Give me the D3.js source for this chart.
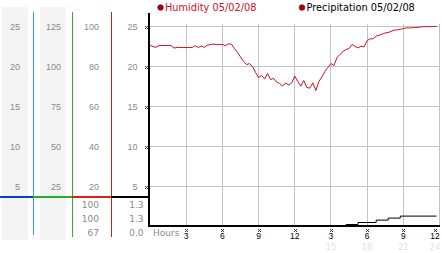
<!DOCTYPE html>
<html>
<head>
<meta charset="utf-8">
<script src="https://cdn.jsdelivr.net/npm/d3@7"></script>
<style>
  body { margin: 0; background: #fff; }
  svg { display: block; font-family: "DejaVu Sans", Verdana, sans-serif; }
</style>
</head>
<body>
<svg id="chart" width="442" height="253"></svg>
<script>
// humidity (%) sampled every 15 minutes from 00:00
const humidityStepHours = 0.25;
const humidity = [
  90.5, 90.0, 89.6, 90.5, 90.5, 90.5, 90.5, 90.5, 89.2, 89.6, 89.5, 89.5,
  89.5, 89.5, 89.5, 90.4, 89.5, 90.2, 89.6, 90.6, 91.0, 91.2, 91.0, 91.0,
  91.0, 90.4, 91.3, 91.2, 89.0, 87.0, 84.8, 82.6, 81.0, 81.4, 80.0, 77.0,
  74.5, 75.5, 73.8, 76.5, 73.5, 74.0, 72.2, 71.5, 70.2, 71.8, 70.7, 71.8,
  75.2, 72.5, 70.2, 73.0, 69.5, 69.2, 71.8, 68.0, 72.5, 74.8, 77.5, 79.5,
  81.5, 80.5, 84.5, 86.0, 87.5, 88.5, 89.0, 91.0, 90.0, 89.3, 90.2, 89.8,
  93.0, 93.8, 93.9, 95.2, 95.6, 96.2, 96.8, 97.0, 97.6, 98.2, 98.3, 98.6,
  99.0, 99.3, 99.3, 99.4, 99.5, 99.6, 99.8, 100.0, 99.9, 100.0, 100.0, 100.0
];

// cumulative precipitation, changes only
const precipHours = [0, 16.25, 17.25, 18.75, 19.75, 20.75, 23.75];
const precipValues = [0, 0.25, 0.5, 0.8, 1.05, 1.3, 1.3];

// left hand scale columns
const col1Ticks = [5, 10, 15, 20, 25];
const col2Ticks = [25, 50, 75, 100, 125];
const col3Ticks = [20, 40, 60, 80, 100];
const col4Ticks = [5, 10, 15, 20, 25];

// readings printed under the colour bar
const col3Readings = ["100", "100", "67"];
const col4Readings = ["1.3", "1.3", "0.0"];

// x axis
const hourTicks = [3, 6, 9, 12, 15, 18, 21, 24];
const hourLabels = ["3", "6", "9", "12", "3", "6", "9", "12"];
const dayTicks = [15, 18, 21, 24];

const legendItems = [
  { label: "Humidity 05/02/08", x: 160.5, color: "#cc1020" },
  { label: "Precipitation 05/02/08", x: 302, color: "#000" },
];

const svg = d3.select("#chart");

const xScale = d3.scaleLinear().domain([0, 24]).range([150, 439.5]);
const yScale = d3.scaleLinear().domain([0, 25]).range([226.5, 26.5]);
const humScale = d3.scaleLinear().domain([0, 100]).range([226.5, 26.5]);
const col2Scale = d3.scaleLinear().domain([0, 125]).range([226.5, 26.5]);

const crisp = (v) => Math.round(v - 0.5) + 0.5;
// last label on the right is pulled inside the frame
const labelX = (d) => Math.min(xScale(d), 435);

// grey bands behind the first two columns
svg.selectAll(".band")
  .data([[2, 26], [40, 26]])
  .enter()
  .append("rect")
  .attr("x", (d) => d[0])
  .attr("y", 7)
  .attr("width", (d) => d[1])
  .attr("height", 233)
  .attr("fill", "#f4f4f4");

// vertical coloured separators
const separators = [
  { x: 33.5, color: "#28a4d4", y2: 235 },
  { x: 72.5, color: "#2cb42c", y2: 237 },
  { x: 111.5, color: "#c82020", y2: 237 },
];
svg.selectAll(".sep")
  .data(separators)
  .enter()
  .append("line")
  .attr("x1", (d) => d.x)
  .attr("x2", (d) => d.x)
  .attr("y1", 12)
  .attr("y2", (d) => d.y2)
  .attr("stroke", (d) => d.color)
  .attr("stroke-width", 1);

// horizontal colour bar
const barSegments = [
  { x1: 0, x2: 33, color: "#0a3cd0" },
  { x1: 33, x2: 72, color: "#22b022" },
  { x1: 72, x2: 111, color: "#d82020" },
  { x1: 111, x2: 149, color: "#000" },
];
svg.selectAll(".seg")
  .data(barSegments)
  .enter()
  .append("rect")
  .attr("x", (d) => d.x1)
  .attr("y", 196)
  .attr("width", (d) => d.x2 - d.x1)
  .attr("height", 2)
  .attr("fill", (d) => d.color);

// label columns, drawn with d3 axes
const drawColumn = (scale, ticks, right) => {
  const g = svg.append("g")
    .attr("transform", `translate(${right},0)`)
    .call(d3.axisLeft(scale).tickValues(ticks).tickSize(0).tickPadding(0));
  g.select(".domain").remove();
  g.selectAll("text")
    .attr("fill", "#8a8a8a")
    .style("font-size", "9px");
};
drawColumn(yScale, col1Ticks, 20);
drawColumn(col2Scale, col2Ticks, 61);
drawColumn(humScale, col3Ticks, 99);
drawColumn(yScale, col4Ticks, 137.5);

const readingY = [207.5, 221.5, 235.5];
svg.selectAll(".read3")
  .data(col3Readings)
  .enter()
  .append("text")
  .attr("x", 99)
  .attr("y", (d, i) => readingY[i])
  .attr("text-anchor", "end")
  .attr("fill", "#8a8a8a")
  .style("font-size", "9px")
  .text((d) => d);
svg.selectAll(".read4")
  .data(col4Readings)
  .enter()
  .append("text")
  .attr("x", 143.5)
  .attr("y", (d, i) => readingY[i])
  .attr("text-anchor", "end")
  .attr("fill", "#8a8a8a")
  .style("font-size", "9px")
  .text((d) => d);

// grid
svg.selectAll(".hgrid")
  .data(col4Ticks)
  .enter()
  .append("line")
  .attr("x1", 149)
  .attr("x2", 440)
  .attr("y1", (d) => crisp(yScale(d)))
  .attr("y2", (d) => crisp(yScale(d)))
  .attr("stroke", "#c4c4c4");
svg.selectAll(".vgrid")
  .data(hourTicks)
  .enter()
  .append("line")
  .attr("x1", (d) => crisp(xScale(d)))
  .attr("x2", (d) => crisp(xScale(d)))
  .attr("y1", 24)
  .attr("y2", 226)
  .attr("stroke", "#c4c4c4");

// small checker tick markers
const marker = (g, cx, cy) => {
  [[0, 0], [2, 0], [1, 1], [0, 2], [2, 2]].forEach((p) => {
    g.append("rect")
      .attr("x", Math.round(cx) - 1 + p[0])
      .attr("y", Math.round(cy) - 1 + p[1])
      .attr("width", 1)
      .attr("height", 1)
      .attr("fill", "#333");
  });
};
const markers = svg.append("g");
col4Ticks.forEach((t) => marker(markers, 146, yScale(t)));
hourTicks.forEach((t) => marker(markers, labelX(t), 229.5));

// humidity
const humLine = d3.line()
  .x((d, i) => xScale(i * humidityStepHours))
  .y((d) => humScale(d));
svg.append("path")
  .datum(humidity)
  .attr("d", humLine)
  .attr("fill", "none")
  .attr("stroke", "#cc1020")
  .attr("stroke-width", 1);

// axes lines
svg.append("rect").attr("x", 148).attr("y", 13).attr("width", 2).attr("height", 214).attr("fill", "#000");
svg.append("rect").attr("x", 148).attr("y", 225).attr("width", 292).attr("height", 2).attr("fill", "#000");

// precipitation
const precipLine = d3.line()
  .x((d, i) => xScale(precipHours[i]))
  .y((d) => yScale(d))
  .curve(d3.curveStepAfter);
svg.append("path")
  .datum(precipValues)
  .attr("d", precipLine)
  .attr("fill", "none")
  .attr("stroke", "#000")
  .attr("stroke-width", 1);

// x axis labels
const xAxis = svg.append("g")
  .attr("transform", "translate(0,239)")
  .call(d3.axisBottom(xScale).tickValues(hourTicks).tickSize(0).tickPadding(0)
    .tickFormat((d, i) => hourLabels[i]));
xAxis.select(".domain").remove();
xAxis.selectAll(".tick")
  .attr("transform", (d) => `translate(${labelX(d)},0)`);
xAxis.selectAll("text")
  .attr("dy", 0)
  .attr("fill", "#000")
  .style("font-size", "8.5px");

svg.selectAll(".day")
  .data(dayTicks)
  .enter()
  .append("text")
  .attr("x", (d) => labelX(d))
  .attr("y", 250)
  .attr("text-anchor", "middle")
  .attr("fill", "#e2e2e2")
  .style("font-size", "8.5px")
  .text((d) => d);

svg.append("text")
  .attr("x", 153)
  .attr("y", 235.5)
  .attr("fill", "#8a8a8a")
  .style("font-size", "9px")
  .text("Hours");

// legend
const legend = svg.selectAll(".legend")
  .data(legendItems)
  .enter()
  .append("g");
legend.append("circle")
  .attr("cx", (d) => d.x)
  .attr("cy", 7.5)
  .attr("r", 2.8)
  .attr("fill", "#b00010")
  .attr("stroke", "#500000")
  .attr("stroke-width", 0.6);
legend.append("text")
  .attr("x", (d) => d.x + 4.5)
  .attr("y", 10.5)
  .attr("fill", (d) => d.color)
  .style("font-size", "9.8px")
  .text((d) => d.label);
</script>
</body>
</html>
